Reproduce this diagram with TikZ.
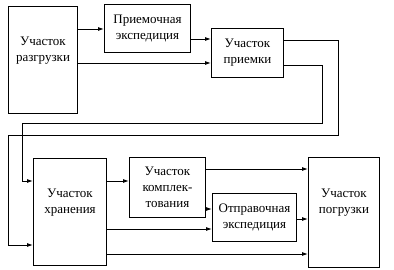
\documentclass[tikz,border=0pt]{standalone}
\usepackage{fontspec}
\setmainfont{Liberation Serif}
\usepackage{tikz}
\usetikzlibrary{arrows.meta, positioning, calc}
\tikzset{
  font=\fontsize{13}{16}\selectfont,
  blockbox/.style={
    rectangle, draw=black, line width=1pt, fill=white,
    anchor=north west, inner sep=0pt, align=center
  },
  tallbox/.style={blockbox, text depth=22pt},
  flowline/.style={
    draw=black, -{Latex[length=6pt, width=4pt]}, line width=0.9pt
  }
}
\begin{document}
\begin{tikzpicture}[x=1pt, y=-1pt]
  \useasboundingbox (0,0) rectangle (394,270);

  % upper row
  \node[tallbox, minimum width=69pt, minimum height=107pt] (razgruzka) at (8,6) {Участок\\разгрузки};
  \node[blockbox, minimum width=86pt, minimum height=48pt] (priem_exp) at (104,4) {Приемочная\\экспедиция};
  \node[blockbox, minimum width=72pt, minimum height=49pt] (priemka) at (211,28) {Участок\\приемки};

  % lower row
  \node[tallbox, minimum width=73pt, minimum height=107pt] (hranenie) at (33,158) {Участок\\хранения};
  \node[blockbox, minimum width=76pt, minimum height=60pt] (komplekt) at (129,157) {Участок\\комплек-\\тования};
  \node[blockbox, minimum width=84pt, minimum height=48pt] (otpr_exp) at (212,193) {Отправочная\\экспедиция};
  \node[tallbox, minimum width=71pt, minimum height=110pt] (pogruzka) at (308,157) {Участок\\погрузки};

  \draw[flowline] (razgruzka.east |- 0,29) -- (priem_exp.west |- 0,29);
  \draw[flowline] (priem_exp.east |- 0,39) -- (priemka.west |- 0,39);
  \draw[flowline] (razgruzka.east |- 0,63) -- (priemka.west |- 0,63);

  % returns to storage
  \draw[flowline] (priemka.east |- 0,40) -| (338,135) -| (8,245) -- (hranenie.west |- 0,245);
  \draw[flowline] (priemka.east |- 0,65) -| (322,123) -| (22,181) -- (hranenie.west |- 0,181);

  \draw[flowline] (hranenie.east |- 0,181) -- (komplekt.west |- 0,181);
  \draw[flowline] (komplekt.east |- 0,169) -- (pogruzka.west |- 0,169);
  \draw[flowline] (komplekt.east |- 0,209) -- (otpr_exp.west |- 0,209);
  \draw[flowline] (hranenie.east |- 0,229) -- (otpr_exp.west |- 0,229);
  \draw[flowline] (otpr_exp.east |- 0,219) -- (pogruzka.west |- 0,219);
  \draw[flowline] (hranenie.east |- 0,254) -- (pogruzka.west |- 0,254);
\end{tikzpicture}
\end{document}
